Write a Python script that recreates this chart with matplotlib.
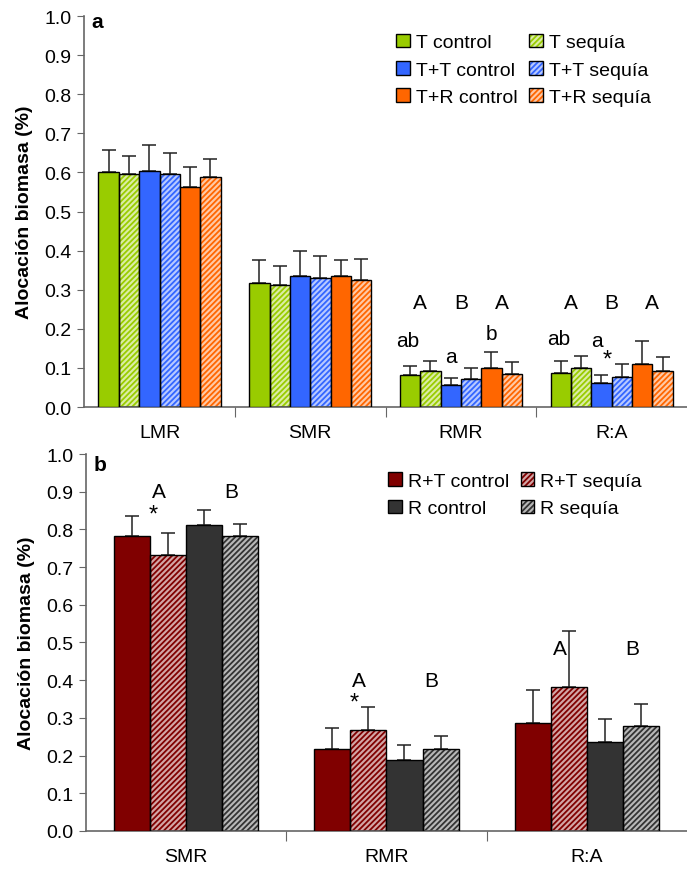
import matplotlib
matplotlib.use('Agg')
import matplotlib.pyplot as plt
import numpy as np
from matplotlib.patches import Patch
from matplotlib.colors import to_rgb
from matplotlib.legend_handler import HandlerTuple

plt.rcParams['font.family'] = ['Liberation Sans', 'DejaVu Sans']
plt.rcParams['hatch.linewidth'] = 1.3

# Panel a: Tamarix-type treatments
cats_a = ['LMR', 'SMR', 'RMR', 'R:A']
labels_a = ['T control', 'T sequía', 'T+T control', 'T+T sequía',
            'T+R control', 'T+R sequía']
colors_a = ['#99CC00', '#99CC00', '#3366FF', '#3366FF', '#FF6600', '#FF6600']
vals_a = [
    [0.600, 0.596, 0.603, 0.596, 0.563, 0.589],   # LMR
    [0.318, 0.311, 0.336, 0.329, 0.336, 0.326],   # SMR
    [0.082, 0.092, 0.057, 0.071, 0.099, 0.085],   # RMR
    [0.088, 0.099, 0.061, 0.078, 0.110, 0.093],   # R:A
]
err_a = [
    [0.057, 0.046, 0.067, 0.054, 0.050, 0.046],
    [0.057, 0.050, 0.064, 0.057, 0.039, 0.052],
    [0.024, 0.025, 0.018, 0.029, 0.043, 0.029],
    [0.029, 0.032, 0.021, 0.032, 0.060, 0.035],
]

# Panel b
cats_b = ['SMR', 'RMR', 'R:A']
labels_b = ['R+T control', 'R+T sequía', 'R control', 'R sequía']
colors_b = ['#800000', '#800000', '#333333', '#333333']
vals_b = [
    [0.783, 0.732, 0.812, 0.783],
    [0.218, 0.268, 0.188, 0.217],
    [0.286, 0.382, 0.236, 0.279],
]
err_b = [
    [0.052, 0.058, 0.040, 0.032],
    [0.054, 0.062, 0.040, 0.036],
    [0.089, 0.148, 0.061, 0.059],
]

# significance letters: (category, bar offset, y, text)
notes_a = [
    (2, 0.5, 0.268, 'A'), (2, 2.5, 0.268, 'B'), (2, 4.5, 0.268, 'A'),
    (2, -0.1, 0.169, 'ab'), (2, 2.0, 0.128, 'a'), (2, 4.0, 0.187, 'b'),
    (3, 0.5, 0.268, 'A'), (3, 2.5, 0.268, 'B'), (3, 4.5, 0.268, 'A'),
    (3, -0.1, 0.174, 'ab'), (3, 1.8, 0.169, 'a'), (3, 2.3, 0.122, '*'),
]
notes_b = [
    (0, 0.75, 0.900, 'A'), (0, 0.6, 0.840, '*'), (0, 2.75, 0.900, 'B'),
    (1, 0.75, 0.400, 'A'), (1, 0.6, 0.340, '*'), (1, 2.75, 0.400, 'B'),
    (2, 0.75, 0.485, 'A'), (2, 2.75, 0.485, 'B'),
]


def tint(color, amount=0.65):
    r, g, b = to_rgb(color)
    return (r + (1 - r) * amount, g + (1 - g) * amount, b + (1 - b) * amount)


def draw_panel(ax, cats, labels, colors, vals, errs, width, notes, tag,
               tag_y, label_y, legend_anchor):
    n = len(labels)
    vals = np.array(vals)
    errs = np.array(errs)
    x = np.arange(len(cats))
    for i in range(n):
        pos = x + (i - (n - 1) / 2) * width
        h = vals[:, i]
        if i % 2 == 1:
            ax.bar(pos, h, width, color=tint(colors[i]), edgecolor=colors[i],
                   hatch='//////', linewidth=0, zorder=2)
            ax.bar(pos, h, width, facecolor='none', edgecolor='black',
                   linewidth=1.0, zorder=3)
        else:
            ax.bar(pos, h, width, color=colors[i], edgecolor='black',
                   linewidth=1.0, zorder=3)
        ax.errorbar(pos, h, yerr=[np.zeros(len(h)), errs[:, i]], fmt='none',
                    ecolor='#222222', elinewidth=1.1, capsize=5, capthick=1.1,
                    zorder=1)

    for c, off, y, t in notes:
        xpos = c + (off - (n - 1) / 2) * width
        fs = 17 if t == '*' else 15
        ax.text(xpos, y, t, ha='center', va='center', fontsize=fs)

    ax.set_xlim(-0.5, len(cats) - 0.5)
    ax.set_ylim(0, 1.0)
    ticks = np.arange(0, 1.01, 0.1)
    ax.set_yticks(ticks)
    ax.set_yticklabels([f'{v:.1f}' for v in ticks], fontsize=14)
    ax.set_xticks(np.arange(len(cats) - 1) + 0.5)
    ax.set_xticklabels([])
    ax.tick_params(axis='x', length=7, color='#666666')
    ax.tick_params(axis='y', length=5, color='#666666', pad=4)
    for i, c in enumerate(cats):
        ax.text(i, label_y, c, ha='center', va='center', fontsize=14,
                clip_on=False)
    for s in ['top', 'right']:
        ax.spines[s].set_visible(False)
    for s in ['left', 'bottom']:
        ax.spines[s].set_color('#666666')
        ax.spines[s].set_linewidth(1.2)
    ax.set_ylabel('Alocación biomasa (%)', fontsize=14, fontweight='bold',
                  labelpad=8)
    ax.text(0.012, tag_y, tag, transform=ax.transAxes, fontsize=15,
            fontweight='bold', ha='left', va='center')

    # legend filled column-wise: controls left, drought right
    order = list(range(0, n, 2)) + list(range(1, n, 2))
    handles, texts = [], []
    for i in order:
        if i % 2 == 1:
            handles.append((Patch(facecolor=tint(colors[i]),
                                  edgecolor=colors[i], hatch='//////',
                                  linewidth=0),
                            Patch(facecolor='none', edgecolor='black',
                                  linewidth=1.0)))
        else:
            handles.append(Patch(facecolor=colors[i], edgecolor='black',
                                 linewidth=1.0))
        texts.append(labels[i])
    ax.legend(handles, texts, ncol=2, loc='upper left',
              bbox_to_anchor=legend_anchor, frameon=False, fontsize=14,
              handlelength=0.7, handleheight=0.7, handletextpad=0.3,
              columnspacing=0.6, labelspacing=0.5, borderaxespad=0,
              handler_map={tuple: HandlerTuple(ndivide=1)})
    return ax


fig = plt.figure(figsize=(6.87, 8.7), dpi=100)
ax_a = fig.add_axes([0.1225, 0.531, 0.8775, 0.4494])
ax_b = fig.add_axes([0.125, 0.0437, 0.875, 0.4333])

draw_panel(ax_a, cats_a, labels_a, colors_a, vals_a, err_a, 0.135, notes_a,
           'a', 0.985, -0.064, (0.505, 0.975))
draw_panel(ax_b, cats_b, labels_b, colors_b, vals_b, err_b, 0.18, notes_b,
           'b', 0.971, -0.069, (0.49, 0.972))

fig.savefig('out.png', dpi=100)
